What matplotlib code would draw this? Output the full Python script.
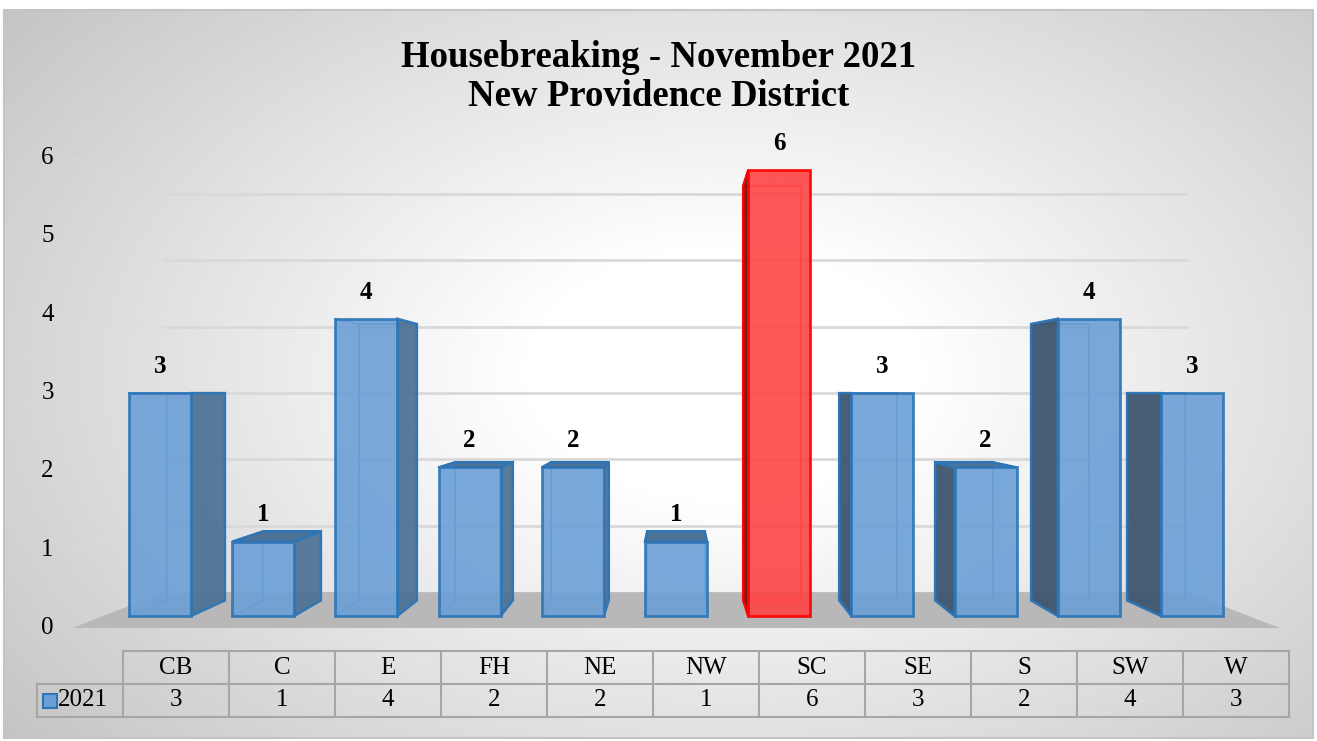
import matplotlib.pyplot as plt
import numpy as np
from matplotlib.patches import Polygon, Rectangle

districts = ['CB', 'C', 'E', 'FH', 'NE', 'NW', 'SC', 'SE', 'S', 'SW', 'W']
counts_2021 = [3, 1, 4, 2, 2, 1, 6, 3, 2, 4, 3]
series_name = '2021'
highlight = 'SC'
y_ticks = [0, 1, 2, 3, 4, 5, 6]

W, H = 1317, 741
fig = plt.figure(figsize=(W / 100, H / 100), dpi=100, facecolor='white')
serif = 'Liberation Serif'

# chart area with a soft radial gradient, white margin outside it
bx0, by0, bx1, by1 = 4 / W, 3 / H, 1313 / W, 731 / H
bg = fig.add_axes([0, 0, 1, 1], zorder=0)
yy, xx = np.mgrid[0:1:300j, 0:1:500j]
r = np.sqrt(((xx - 0.55) * 1.15) ** 2 + ((yy - 0.5) * 1.0) ** 2)
img = np.clip(1.06 - 0.36 * r, 0.77, 1.0)
bg.imshow(img, cmap='gray', vmin=0, vmax=1, extent=[bx0, bx1, by0, by1],
          aspect='auto', origin='lower')
bg.set_xlim(0, 1)
bg.set_ylim(0, 1)
bg.axis('off')
bg.add_patch(Rectangle((bx0, by0), bx1 - bx0, by1 - by0, fill=False,
                       edgecolor='#c4c4c4', lw=1.5))

# main axes: x = category index, y = value on the front plane of the bars
ax = fig.add_axes([0, 0, 1, 1], zorder=1)
ax.set_xlim(-160 / 103.2, (W - 160) / 103.2)
ax.set_ylim(-(H - 616) / 74.3, 616 / 74.3)
ax.axis('off')

VX, VY = 5.0, 3.0          # vanishing point
S_BACK, S_WALL, S_FRONT = 0.93, 0.893, 1.054
XL, XR = -0.55, 10.55


def proj(x, y, s):
    return VX + (x - VX) * s, VY + (y - VY) * s


# floor
floor = [proj(XL, 0, S_FRONT), proj(XR, 0, S_FRONT),
         proj(XR, 0, S_WALL), proj(XL, 0, S_WALL)]
ax.add_patch(Polygon(floor, closed=True, facecolor='#b8b8b8', edgecolor='none', zorder=1))

# gridlines on back wall and faint ones on the left wall, tick labels
for v in y_ticks:
    if v > 0:
        a, b = proj(XL, v, S_WALL), proj(XR, v, S_WALL)
        ax.plot([a[0], b[0]], [a[1], b[1]], color='#d9d9d9', lw=2, zorder=0.5)
        c = proj(XL, v, S_FRONT)
        ax.plot([c[0], a[0]], [c[1], a[1]], color='#dcdcdc', lw=1.0, alpha=0.7, zorder=0.5)
    c = proj(XL, v, S_FRONT)
    ax.text(c[0] - 0.24, c[1], str(v), ha='center', va='center',
            fontsize=18, family=serif)

# pseudo 3D bars
for i, (name, v) in enumerate(zip(districts, counts_2021)):
    if name == highlight:
        face, edge, inner, side_r, side_l, top_c = ('#ff4444', '#ff0000', '#ff5a5a',
                                                     '#9e1c1c', '#7a1010', '#c22a2a')
    else:
        face, edge, inner, side_r, side_l, top_c = ('#6b9fd6', '#2e75b6', '#5b9bd5',
                                                     '#4f7396', '#3e5670', '#4f7396')
    x0, x1 = i - 0.3, i + 0.3
    fr = [(x0, 0), (x1, 0), (x1, v), (x0, v)]
    bk = [proj(px, py, S_BACK) for px, py in fr]

    # back face edges seen through the glassy bar
    ax.add_patch(Polygon(bk, closed=True, facecolor='none', edgecolor=inner,
                         lw=1.3, zorder=2))
    ax.plot([fr[0][0], bk[0][0]], [fr[0][1], bk[0][1]], color=inner, lw=1.3, zorder=2)
    ax.plot([fr[3][0], bk[3][0]], [fr[3][1], bk[3][1]], color=inner, lw=1.3, zorder=2)

    if bk[1][0] > fr[1][0] + 0.01:
        side = [fr[1], bk[1], bk[2], fr[2]]
        ax.add_patch(Polygon(side, closed=True, facecolor=side_r, edgecolor=edge,
                             lw=1.8, alpha=0.95, zorder=3))
    if bk[0][0] < fr[0][0] - 0.01:
        side = [fr[0], bk[0], bk[3], fr[3]]
        ax.add_patch(Polygon(side, closed=True, facecolor=side_l, edgecolor=edge,
                             lw=1.8, alpha=0.95, zorder=3))
    if bk[3][1] > fr[3][1]:
        top = [fr[3], fr[2], bk[2], bk[3]]
        ax.add_patch(Polygon(top, closed=True, facecolor=top_c, edgecolor=edge,
                             lw=1.8, zorder=3))

    ax.bar(i, v, width=0.6, bottom=0, color=face, alpha=0.9, edgecolor=edge,
           lw=2, zorder=4)
    ax.text(i, v + 0.36, str(v), ha='center', va='center', fontsize=18,
            fontweight='bold', family=serif, zorder=6)

# title
fig.text(0.5, 1 - 77 / H, 'Housebreaking - November 2021\nNew Providence District',
         ha='center', va='center', fontsize=26.5, fontweight='bold', family=serif,
         linespacing=1.12)

# data table under the chart
LEG = 86 / 106
tb = fig.add_axes([37 / W, (H - 717) / H, (1289 - 37) / W, (717 - 651) / H], zorder=2)
tb.set_xlim(0, LEG + len(districts))
tb.set_ylim(0, 2)
tb.axis('off')
lc = '#a6a6a6'
n = len(districts)
tb.plot([LEG, LEG + n], [2, 2], color=lc, lw=1.5, clip_on=False)
tb.plot([0, LEG + n], [1, 1], color=lc, lw=1.5, clip_on=False)
tb.plot([0, LEG + n], [0, 0], color=lc, lw=1.5, clip_on=False)
tb.plot([0, 0], [0, 1], color=lc, lw=1.5, clip_on=False)
for k in range(n + 1):
    tb.plot([LEG + k, LEG + k], [0, 2], color=lc, lw=1.5, clip_on=False)
for k, (name, v) in enumerate(zip(districts, counts_2021)):
    tb.text(LEG + k + 0.5, 1.5, name, ha='center', va='center', fontsize=18, family=serif)
    tb.text(LEG + k + 0.5, 0.5, str(v), ha='center', va='center', fontsize=18, family=serif)
tb.plot([0.12], [0.5], marker='s', markersize=10, markerfacecolor='#6b9fd6',
        markeredgecolor='#2e75b6', markeredgewidth=1.5)
tb.text(0.2, 0.5, series_name, ha='left', va='center', fontsize=18, family=serif)

fig.savefig('out.png', dpi=100)
